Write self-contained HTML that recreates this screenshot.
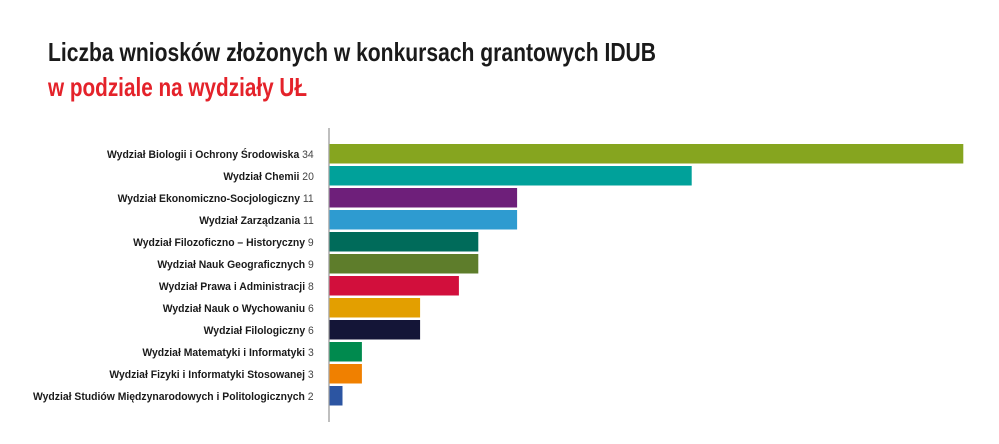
<!DOCTYPE html>
<html><head><meta charset="utf-8"><style>
body{margin:0;background:#fff;width:999px;height:444px;overflow:hidden;position:relative;font-family:"Liberation Sans",sans-serif}
.t{position:absolute;left:48px;font-weight:bold;font-size:26px;white-space:nowrap;transform-origin:0 0;line-height:30px}
</style></head><body>
<div class="t" id="t1" style="top:37px;color:#1a1a1a">Liczba wniosków złożonych w konkursach grantowych IDUB</div>
<div class="t" id="t2" style="top:72px;color:#e4222a">w podziale na wydziały UŁ</div>
<svg id="c" width="999" height="444" style="position:absolute;left:0;top:0"></svg>
<script>
const categories=["Wydział Biologii i Ochrony Środowiska","Wydział Chemii","Wydział Ekonomiczno-Socjologiczny","Wydział Zarządzania","Wydział Filozoficzno – Historyczny","Wydział Nauk Geograficznych","Wydział Prawa i Administracji","Wydział Nauk o Wychowaniu","Wydział Filologiczny","Wydział Matematyki i Informatyki","Wydział Fizyki i Informatyki Stosowanej","Wydział Studiów Międzynarodowych i Politologicznych"];
const values=[34,20,11,11,9,9,8,6,6,3,3,2];
const colors=["#86a51f","#00a19a","#6e1f7a","#2e9bd0","#006b5a","#5e7d2b","#d20f3c","#e39f00","#141537","#008a4e","#f08000","#2c55a2"];
const NS="http://www.w3.org/2000/svg";
const svg=document.getElementById('c');
const axisX=329;
function xScale(v){return 303.7+v*19.4;}
function yScale(i){return 144+i*22;}
function fit(id,w){const e=document.getElementById(id);const m=e.getBoundingClientRect().width;e.style.transform='scaleX('+(w/m)+')';}
fit('t1',608);fit('t2',259);
const ax=document.createElementNS(NS,'line');
ax.setAttribute('x1',axisX);ax.setAttribute('x2',axisX);ax.setAttribute('y1',128);ax.setAttribute('y2',422);
ax.setAttribute('stroke','#aaa');ax.setAttribute('stroke-width','1.5');


svg.appendChild(ax);
const labels=[];
values.forEach((v,i)=>{
 const r=document.createElementNS(NS,'rect');
 r.setAttribute('x',axisX+0.5);r.setAttribute('y',yScale(i));
 r.setAttribute('width',Math.max(0,xScale(v)-axisX-0.5));r.setAttribute('height',19.5);
 r.setAttribute('fill',colors[i]);
 
 
 svg.appendChild(r);
 const t=document.createElementNS(NS,'text');
 t.setAttribute('x',0);t.setAttribute('y',yScale(i)+14);
 t.setAttribute('font-size','11.5');t.setAttribute('fill','#1a1a1a');
 
 
 const a=document.createElementNS(NS,'tspan');a.setAttribute('font-weight','bold');a.textContent=categories[i]+' ';
 const b=document.createElementNS(NS,'tspan');b.setAttribute('fill','#444');b.textContent=String(v);
 t.appendChild(a);t.appendChild(b);svg.appendChild(t);labels.push(t);
});
let maxW=0;labels.forEach(t=>{maxW=Math.max(maxW,t.getComputedTextLength());});
const s=281/maxW;
labels.forEach(t=>{const w=t.getComputedTextLength();const y=t.getAttribute('y');
 t.setAttribute('transform','translate('+(314-w*s)+','+y+') scale('+s+',1) translate(0,'+(-y)+')');});
</script>
</body></html>
